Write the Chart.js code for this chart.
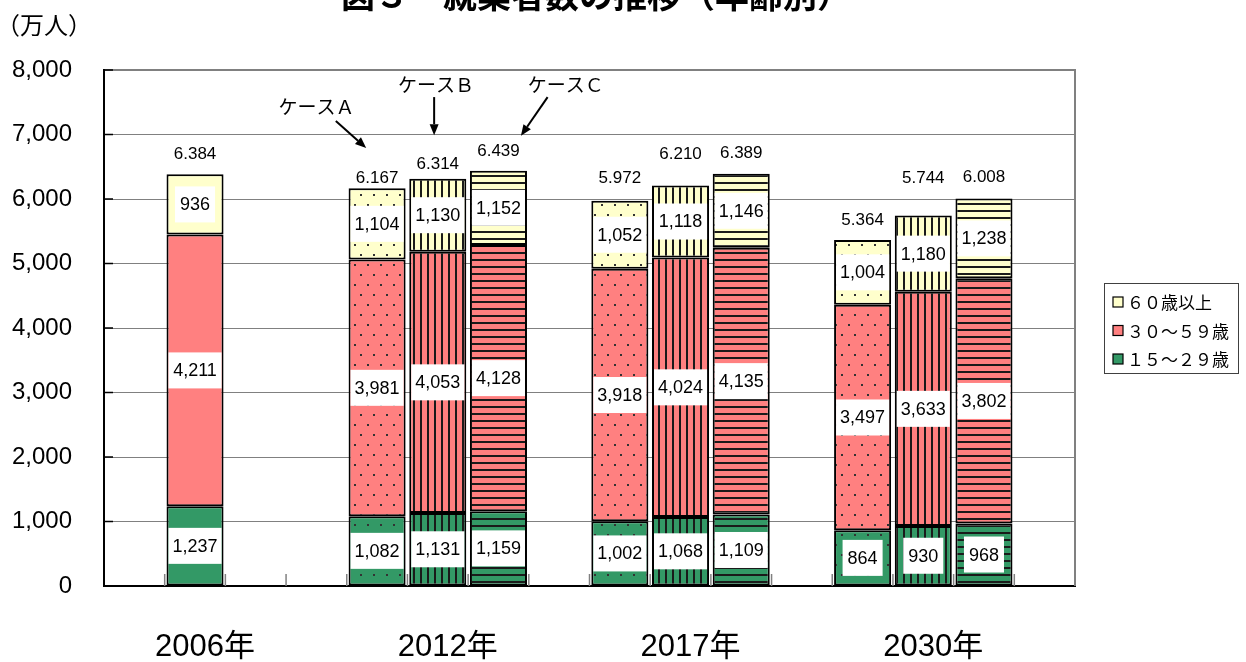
<!DOCTYPE html>
<html lang="ja">
<head>
<meta charset="utf-8">
<title>就業者数の推移（年齢別）</title>
<script src="https://cdn.jsdelivr.net/npm/chart.js@4.4.1/dist/chart.umd.min.js"></script>
<style>
  html, body { margin: 0; padding: 0; background: #fff; overflow: hidden; }
  #wrap { position: relative; width: 1246px; height: 662px; }
</style>
</head>
<body>
<div id="wrap"><canvas id="chart" width="1246" height="662"></canvas></div>
<script>
// data (万人)
const years = ["2006年", "2012年", "2017年", "2030年"];
const casesPerYear = [[""], ["A", "B", "C"], ["A", "B", "C"], ["A", "B", "C"]];
const age15to29 = [1237, 1082, 1131, 1159, 1002, 1068, 1109, 864, 930, 968];
const age30to59 = [4211, 3981, 4053, 4128, 3918, 4024, 4135, 3497, 3633, 3802];
const age60plus = [936, 1104, 1130, 1152, 1052, 1118, 1146, 1004, 1180, 1238];
const totalLabels = ["6.384", "6.167", "6.314", "6.439", "5.972", "6.210", "6.389", "5.364", "5.744", "6.008"];
const seriesNames = ["１５～２９歳", "３０～５９歳", "６０歳以上"];
const yMax = 8000;
const yStep = 1000;

// layout of the category slots: empty slots before each year group, and one after
const gapsBefore = [1, 2, 1, 1];
const gapsAfter = 1;
// how far each total label sits above its bar (px), hand placed in the original
const totalLift = [20, 10, 14, 19, 22, 31, 21, 20, 37, 21];

const colors = ["#339966", "#FF8080", "#FFFFCC"];
const FONT_NUM = '"Liberation Sans", Arial, sans-serif';
const FONT_JP = '"Noto Sans CJK JP", "Noto Sans", sans-serif';

// build slots
const slotBar = [];
const slotLabel = [];
const barCase = [];
let b = 0;
years.forEach((yr, g) => {
  for (let k = 0; k < gapsBefore[g]; k++) { slotBar.push(null); slotLabel.push(""); }
  const start = slotBar.length;
  casesPerYear[g].forEach((c) => {
    slotBar.push(b++);
    slotLabel.push("");
    barCase.push(c);
  });
  slotLabel[start + Math.floor(casesPerYear[g].length / 2)] = yr;
});
for (let k = 0; k < gapsAfter; k++) { slotBar.push(null); slotLabel.push(""); }

// hatch fills: A = dots, B = vertical lines, C = horizontal lines
function makeFill(color, kind) {
  if (!kind) return color;
  const c = document.createElement("canvas");
  const g = c.getContext("2d");
  if (kind === "A") {
    c.width = 13; c.height = 20;
    g.fillStyle = color; g.fillRect(0, 0, 13, 20);
    g.fillStyle = "#333";
    g.fillRect(3, 4, 2, 2);
    g.fillRect(9, 14, 2, 2);
  } else if (kind === "B") {
    c.width = 7; c.height = 7;
    g.fillStyle = color; g.fillRect(0, 0, 7, 7);
    g.fillStyle = "#1a1a1a"; g.fillRect(0, 0, 2, 7);
  } else {
    c.width = 7; c.height = 7;
    g.fillStyle = color; g.fillRect(0, 0, 7, 7);
    g.fillStyle = "#1a1a1a"; g.fillRect(0, 0, 7, 2);
  }
  return g.createPattern(c, "repeat");
}

const series = [age15to29, age30to59, age60plus];
const datasets = series.map((vals, si) => ({
  label: seriesNames[si],
  data: slotBar.map((i) => (i === null ? null : vals[i])),
  backgroundColor: slotBar.map((i) => (i === null ? "transparent" : makeFill(colors[si], barCase[i]))),
  borderColor: "#000",
  borderWidth: 2,
  borderSkipped: false,
  barPercentage: 0.94,
  categoryPercentage: 1,
}));

// case annotations (x in category index units, y in data units)
const caseNotes = [
  { text: "ケースＡ", at: [3.0, 7430], from: [3.32, 7210], to: [3.82, 6790] },
  { text: "ケースＢ", at: [4.97, 7770], from: [4.94, 7580], to: [4.94, 6990] },
  { text: "ケースＣ", at: [7.11, 7770], from: [6.81, 7580], to: [6.37, 6980] },
];

function line(ctx, x1, y1, x2, y2) {
  ctx.beginPath(); ctx.moveTo(x1, y1); ctx.lineTo(x2, y2); ctx.stroke();
}

function arrow(ctx, x1, y1, x2, y2) {
  const ang = Math.atan2(y2 - y1, x2 - x1);
  const len = 11, half = 4.5;
  const bx = x2 - len * Math.cos(ang), by = y2 - len * Math.sin(ang);
  ctx.lineWidth = 2;
  line(ctx, x1, y1, bx, by);
  ctx.beginPath();
  ctx.moveTo(x2, y2);
  ctx.lineTo(bx + half * Math.sin(ang), by - half * Math.cos(ang));
  ctx.lineTo(bx - half * Math.sin(ang), by + half * Math.cos(ang));
  ctx.closePath();
  ctx.fill();
}

const extras = {
  id: "extras",
  beforeDatasetsDraw(chart) {
    const { ctx, chartArea: a, scales: { x, y } } = chart;
    ctx.save();
    // right frame
    ctx.strokeStyle = "#808080"; ctx.lineWidth = 2;
    line(ctx, a.right, a.top - 1, a.right, a.bottom);
    // inward y ticks
    ctx.strokeStyle = "#000"; ctx.lineWidth = 1.5;
    y.ticks.forEach((t) => {
      const py = y.getPixelForValue(t.value);
      line(ctx, a.left, py, a.left + 9, py);
    });
    // small ticks between slots on the x axis
    ctx.strokeStyle = "#808080"; ctx.lineWidth = 1.5;
    for (let s = 1; s < slotBar.length; s++) {
      const px = x.getPixelForValue(s - 0.5);
      line(ctx, px, a.bottom, px, a.bottom - 12);
    }
    ctx.restore();
  },
  afterDatasetsDraw(chart) {
    const { ctx, scales: { x, y } } = chart;
    ctx.save();
    ctx.textAlign = "center";
    ctx.textBaseline = "middle";

    // value boxes
    ctx.font = "18px " + FONT_NUM;
    chart.data.datasets.forEach((ds, di) => {
      const meta = chart.getDatasetMeta(di);
      meta.data.forEach((el, j) => {
        const v = ds.data[j];
        if (v == null) return;
        const p = el.getProps(["x", "y", "base", "width"], true);
        const cy = (p.y + p.base) / 2;
        const txt = v.toLocaleString("en-US");
        const w = Math.min(ctx.measureText(txt).width + 10, p.width - 4);
        ctx.fillStyle = "#fff";
        ctx.fillRect(p.x - w / 2, cy - 18, w, 36);
        ctx.fillStyle = "#000";
        ctx.fillText(txt, p.x, cy + 1);
      });
    });

    // totals above bars
    ctx.font = "17px " + FONT_NUM;
    ctx.fillStyle = "#000";
    const topMeta = chart.getDatasetMeta(chart.data.datasets.length - 1);
    topMeta.data.forEach((el, j) => {
      const i = slotBar[j];
      if (i === null) return;
      const p = el.getProps(["x", "y"], true);
      ctx.fillText(totalLabels[i], p.x, p.y - totalLift[i]);
    });

    // case notes with arrows
    ctx.font = "19px " + FONT_JP;
    ctx.strokeStyle = "#000";
    caseNotes.forEach((n) => {
      ctx.fillText(n.text, x.getPixelForValue(n.at[0]), y.getPixelForValue(n.at[1]));
      arrow(ctx,
        x.getPixelForValue(n.from[0]), y.getPixelForValue(n.from[1]),
        x.getPixelForValue(n.to[0]), y.getPixelForValue(n.to[1]));
    });
    ctx.restore();
  },
  afterDraw(chart) {
    const { ctx, chartArea: a } = chart;
    ctx.save();
    // title, cut off by the top edge as in the original
    ctx.fillStyle = "#000";
    ctx.textAlign = "center";
    ctx.textBaseline = "alphabetic";
    ctx.font = "bold 34px " + FONT_JP;
    ctx.fillText("図３　就業者数の推移（年齢別）", 596, 8);
    // unit
    ctx.textAlign = "left";
    ctx.textBaseline = "middle";
    ctx.font = "24px " + FONT_JP;
    ctx.fillText("（万人）", -4, 25);

    // legend
    const lx = a.right + 29, lw = 134, lh = 90;
    const ly = (a.top + a.bottom) / 2 - lh / 2;
    ctx.fillStyle = "#fff";
    ctx.fillRect(lx, ly, lw, lh);
    ctx.strokeStyle = "#404040"; ctx.lineWidth = 1;
    ctx.strokeRect(lx + 0.5, ly + 0.5, lw, lh);
    ctx.font = "17px " + FONT_JP;
    for (let k = 0; k < seriesNames.length; k++) {
      const si = seriesNames.length - 1 - k;
      const cy = ly + 19 + k * 28.5;
      ctx.fillStyle = colors[si];
      ctx.fillRect(lx + 9, cy - 5, 10, 10);
      ctx.strokeStyle = "#000"; ctx.lineWidth = 1.2;
      ctx.strokeRect(lx + 9, cy - 5, 10, 10);
      ctx.fillStyle = "#000";
      ctx.fillText(seriesNames[si], lx + 23, cy + 1);
    }
    ctx.restore();
  },
};

new Chart(document.getElementById("chart"), {
  type: "bar",
  data: { labels: slotLabel, datasets },
  options: {
    responsive: false,
    animation: false,
    devicePixelRatio: 1,
    layout: { padding: { top: 70, right: 171, bottom: 0, left: 0 } },
    plugins: { legend: { display: false }, tooltip: { enabled: false }, title: { display: false } },
    scales: {
      x: {
        stacked: true,
        offset: true,
        grid: { display: false },
        border: { display: true, color: "#000", width: 2 },
        ticks: {
          autoSkip: false,
          maxRotation: 0,
          padding: 35,
          labelOffset: 10,
          color: "#000",
          font: { family: FONT_NUM + ', "Noto Sans CJK JP"', size: 31 },
          callback: (v, i) => slotLabel[i],
        },
        afterFit: (s) => { s.height = 76; },
      },
      y: {
        stacked: true,
        min: 0,
        max: yMax,
        border: { display: true, color: "#000", width: 2 },
        grid: {
          drawTicks: false,
          color: (c) => (c.tick && c.tick.value === 0 ? "rgba(0,0,0,0)" : "#808080"),
          lineWidth: (c) => (c.tick && c.tick.value === yMax ? 2 : 1),
        },
        ticks: {
          stepSize: yStep,
          padding: 32,
          color: "#000",
          font: { family: FONT_NUM, size: 24 },
          callback: (v) => Number(v).toLocaleString("en-US"),
        },
        afterFit: (s) => { s.width = 104; },
      },
    },
  },
  plugins: [extras],
});
</script>
</body>
</html>
